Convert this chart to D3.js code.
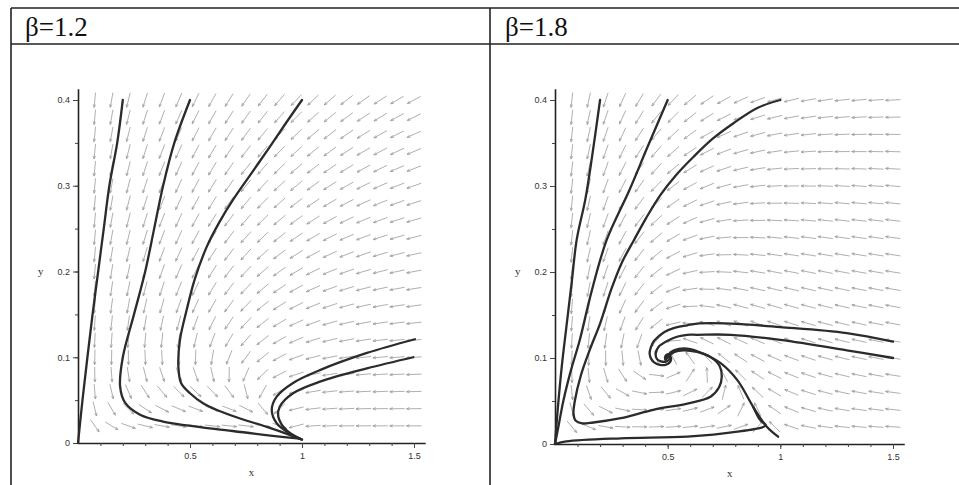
<!DOCTYPE html>
<html>
<head>
<meta charset="utf-8">
<script src="https://cdn.jsdelivr.net/npm/d3@7"></script>
<style>
  body { margin: 0; background: #fff; }
  svg { display: block; }
  .tick text { font-family: "Liberation Sans", Arial, sans-serif; font-size: 9px; fill: #333; }
</style>
</head>
<body>
<svg width="959" height="485"></svg>
<script>
// panel titles and tick labels
const titles = ["β=1.2", "β=1.8"];
const betas = [1.2, 1.8];
const xTickLabels = [0.5, 1, 1.5];
const yTickLabels = [0, 0.1, 0.2, 0.3, 0.4];
const xMinorTicks = d3.range(1, 16).map(i => i / 10);
const yMinorTicks = d3.range(1, 9).map(i => i / 20);

// direction field grid (20 x 20 like the maple default)
const fieldX = d3.range(1, 21).map(i => i * 0.075);
const fieldY = d3.range(1, 21).map(i => i * 0.02);

// model constants for the arrows: x' = x(1-x) - m x y/(a+x), y' = k y(b x/(a+x) - d - e y)
const a = 0.3, m = 4, d = 0.983, e = 1.42, k = 1.3;

// trajectories, beta = 1.2
const traj12 = [
  [[0.2,0.4],[0.175,0.35],[0.14,0.3],[0.115,0.25],[0.09,0.2],[0.065,0.15],[0.042,0.1],[0.02,0.05],[0,0]],
  [[0.5,0.4],[0.43,0.35],[0.38,0.3],[0.34,0.25],[0.3,0.2],[0.25,0.15],[0.2,0.1],[0.188,0.066],[0.21,0.047],[0.277,0.033],[0.38,0.025],[0.69,0.014],[0.99,0.005]],
  [[1.0,0.4],[0.92,0.37],[0.85,0.343],[0.77,0.313],[0.693,0.284],[0.63,0.257],[0.575,0.229],[0.52,0.19],[0.485,0.155],[0.455,0.12],[0.448,0.09],[0.46,0.07],[0.5,0.058],[0.56,0.046],[0.62,0.0385],[0.73,0.028],[0.84,0.019],[0.96,0.008],[1.0,0.004]],
  [[1.504,0.121],[1.29,0.105],[1.08,0.085],[0.96,0.07],[0.887,0.054],[0.865,0.0385],[0.887,0.023],[0.946,0.011],[1.0,0.004]],
  [[1.497,0.1],[1.29,0.087],[1.08,0.0715],[0.96,0.058],[0.9,0.042],[0.894,0.031],[0.93,0.015],[0.99,0.005]]
];

// trajectories, beta = 1.8
const traj18 = [
  [[0.2,0.4],[0.165,0.335],[0.135,0.285],[0.096,0.237],[0.075,0.19],[0.05,0.135],[0.03,0.09],[0.012,0.04],[0,0]],
  [[0.5,0.4],[0.41,0.345],[0.33,0.295],[0.229,0.237],[0.16,0.175],[0.11,0.121],[0.07,0.085],[0.037,0.05],[0.015,0.02],[0,0]],
  [[1.0,0.4],[0.9,0.391],[0.792,0.373],[0.7,0.355],[0.615,0.334],[0.535,0.312],[0.469,0.29],[0.405,0.263],[0.35,0.237],[0.295,0.21],[0.25,0.18],[0.2,0.14],[0.155,0.11],[0.115,0.08],[0.088,0.05],[0.082,0.035],[0.092,0.027],[0.12,0.024],[0.17,0.025],[0.292,0.03],[0.44,0.04],[0.587,0.047],[0.69,0.055],[0.728,0.066],[0.74,0.078],[0.73,0.091],[0.69,0.101],[0.63,0.107],[0.57,0.109],[0.53,0.107],[0.505,0.102],[0.49,0.098]],
  [[0,0],[0.05,0.003],[0.292,0.0066],[0.587,0.0085],[0.81,0.0143],[0.926,0.02],[0.935,0.022],[0.91,0.028],[0.88,0.043]],
  [[0.99,0.0085],[0.94,0.02],[0.88,0.043],[0.81,0.074],[0.735,0.094],[0.66,0.105],[0.587,0.111],[0.528,0.109],[0.499,0.103],[0.49,0.098]],
  [[1.5,0.119],[1.295,0.129],[1.0,0.136],[0.78,0.14],[0.63,0.14],[0.587,0.138],[0.53,0.135],[0.484,0.13],[0.44,0.12],[0.425,0.112],[0.42,0.105],[0.427,0.099],[0.44,0.095],[0.465,0.092],[0.49,0.092],[0.51,0.095],[0.515,0.1],[0.505,0.104],[0.492,0.103],[0.488,0.1]],
  [[1.5,0.1],[1.295,0.109],[1.0,0.121],[0.78,0.127],[0.63,0.127],[0.587,0.127],[0.545,0.125],[0.5,0.12],[0.46,0.113],[0.447,0.105],[0.452,0.099],[0.47,0.096],[0.495,0.096],[0.51,0.1],[0.5,0.104],[0.49,0.1]]
];

const svg = d3.select("svg");
svg.append("rect").attr("width", 959).attr("height", 485).attr("fill", "#fff");

/*table frame*/
const frame = svg.append("g").attr("stroke", "#222").attr("stroke-width", 1.6);
frame.append("line").attr("x1", 11).attr("x2", 959).attr("y1", 8).attr("y2", 8);
frame.append("line").attr("x1", 11).attr("x2", 959).attr("y1", 44).attr("y2", 44);
frame.append("line").attr("x1", 11).attr("x2", 11).attr("y1", 8).attr("y2", 485);
frame.append("line").attr("x1", 490).attr("x2", 490).attr("y1", 8).attr("y2", 485);

const panels = [
  { title: titles[0], beta: betas[0], traj: traj12, tx: 25, x0: 78, x1: 414, y0: 443, y1: 100 },
  { title: titles[1], beta: betas[1], traj: traj18, tx: 505, x0: 555, x1: 893, y0: 444, y1: 100 }
];

var lineGenerator = d3.line().curve(d3.curveCatmullRom.alpha(0.5));

panels.forEach(function(p) {
  svg.append("text")
    .attr("x", p.tx).attr("y", 36)
    .attr("font-family", "'Liberation Serif', 'Times New Roman', serif")
    .attr("font-size", 27).attr("fill", "#111")
    .text(p.title);

  const xScale = d3.scaleLinear().domain([0, 1.5]).range([p.x0, p.x1]);
  const yScale = d3.scaleLinear().domain([0, 0.4]).range([p.y0, p.y1]);

  /*direction field*/
  const arrows = svg.append("g").attr("stroke", "#9a9a9a").attr("stroke-width", 0.8).attr("fill", "none");
  const len = 15;
  fieldY.forEach(function(fy) {
    fieldX.forEach(function(fx) {
      const dx = fx * (1 - fx) - m * fx * fy / (a + fx);
      const dy = k * fy * (p.beta * fx / (a + fx) - d - e * fy);
      // direction in screen space
      let sx = xScale(fx + dx) - xScale(fx);
      let sy = yScale(fy + dy) - yScale(fy);
      const n = Math.hypot(sx, sy) || 1;
      sx /= n; sy /= n;
      const cx = xScale(fx), cy = yScale(fy);
      const tx = cx + sx * len / 2, ty = cy + sy * len / 2;
      const bx = cx - sx * len / 2, by = cy - sy * len / 2;
      const h = 3, w = 1.2;
      const hx = tx - sx * h, hy = ty - sy * h;
      arrows.append("path")
        .attr("d", `M${bx},${by}L${tx},${ty}M${hx - sy * w},${hy + sx * w}L${tx},${ty}L${hx + sy * w},${hy - sx * w}`);
    });
  });

  /*axes*/
  const xAxisScale = xScale.copy().domain([0, 1.55]).range([xScale(0), xScale(1.55)]);
  const yAxisScale = yScale.copy().domain([0, 0.413]).range([yScale(0), yScale(0.413)]);

  svg.append("g")
    .attr("transform", `translate(0, ${p.y0})`)
    .call(d3.axisBottom(xAxisScale).tickValues(xMinorTicks).tickSize(3).tickSizeOuter(0).tickFormat(""))
    .call(g => g.select(".domain").attr("stroke", "#222").attr("stroke-width", 1.6))
    .call(g => g.selectAll(".tick line").attr("stroke", "#444"));
  svg.append("g")
    .attr("transform", `translate(0, ${p.y0})`)
    .call(d3.axisBottom(xAxisScale).tickValues(xTickLabels).tickSize(5).tickPadding(5).tickFormat(d3.format("")))
    .call(g => g.select(".domain").remove())
    .call(g => g.selectAll(".tick line").attr("stroke", "#444"));

  svg.append("g")
    .attr("transform", `translate(${p.x0}, 0)`)
    .call(d3.axisLeft(yAxisScale).tickValues(yMinorTicks).tickSize(3).tickSizeOuter(0).tickFormat(""))
    .call(g => g.select(".domain").attr("stroke", "#222").attr("stroke-width", 1.6))
    .call(g => g.selectAll(".tick line").attr("stroke", "#444"));
  svg.append("g")
    .attr("transform", `translate(${p.x0}, 0)`)
    .call(d3.axisLeft(yAxisScale).tickValues(yTickLabels).tickSize(5).tickPadding(3).tickFormat(d3.format("")))
    .call(g => g.select(".domain").remove())
    .call(g => g.selectAll(".tick line").attr("stroke", "#444"));

  svg.append("text")
    .attr("x", (xScale(0) + xScale(1.55)) / 2).attr("y", p.y0 + 33)
    .attr("text-anchor", "middle")
    .attr("font-family", "'Liberation Serif', serif").attr("font-size", 11).attr("fill", "#333")
    .text("x");
  svg.append("text")
    .attr("x", p.x0 - 40).attr("y", yScale(0.2) + 3)
    .attr("font-family", "'Liberation Serif', serif").attr("font-size", 11).attr("fill", "#333")
    .text("y");

  /*trajectories*/
  svg.append("g")
    .selectAll("path")
    .data(p.traj)
    .join("path")
    .attr("d", t => lineGenerator(t.map(q => [xScale(q[0]), yScale(q[1])])))
    .attr("fill", "none")
    .attr("stroke", "#2b2b2b")
    .attr("stroke-width", 2.3)
    .attr("stroke-linejoin", "round")
    .attr("stroke-linecap", "round");
});
</script>
</body>
</html>
